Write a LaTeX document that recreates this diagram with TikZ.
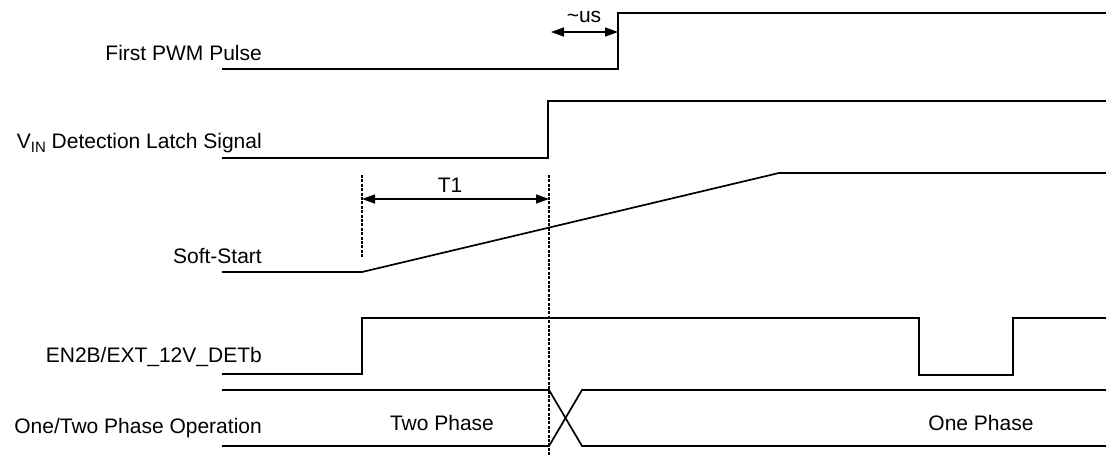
\documentclass[tikz,border=0pt]{standalone}
\usepackage{fontspec}
\setmainfont{Liberation Sans}
\usetikzlibrary{arrows.meta}
\begin{document}
\begin{tikzpicture}[x=1pt,y=-1pt,
  wave/.style={line width=1.7pt, line join=miter},
  lbl/.style={inner sep=0pt, anchor=base east, font=\fontsize{21}{25}\selectfont},
  txt/.style={inner sep=0pt, anchor=base, font=\fontsize{21}{25}\selectfont},
  marker/.style={line width=2.6pt, dash pattern=on 3pt off 1.4pt},
  dim/.style={line width=1.6pt, {Triangle[length=13pt,width=9pt]}-{Triangle[length=13pt,width=9pt]}}]
\useasboundingbox (0,0) rectangle (1106,455);
% labels
\node[lbl] (l1) at (262,60) {First PWM Pulse};
\node[lbl] (l2) at (262,148) {V\raisebox{-4pt}{\fontsize{15}{15}\selectfont IN} Detection Latch Signal};
\node[lbl] (l3) at (262,263) {Soft-Start};
\node[lbl] (l4) at (262,362) {EN2B/EXT\_12V\_DETb};
\node[lbl] (l5) at (262,433) {One/Two Phase Operation};
% First PWM pulse
\draw[wave] (222,69) -- (618,69) -- (618,13) -- (1106,13);
% VIN detection latch
\draw[wave] (222,158) -- (548,158) -- (548,101) -- (1106,101);
% Soft-start
\draw[wave] (222,272) -- (362,272) -- (779,173) -- (1106,173);
% EN2B
\draw[wave] (222,374) -- (362,374) -- (362,318) -- (919,318) -- (919,375) -- (1013,375) -- (1013,318) -- (1106,318);
% Phase operation
\draw[wave] (222,390) -- (549,390) -- (582,446) -- (1106,446);
\draw[wave] (222,446) -- (549,446) -- (582,390) -- (1106,390);
\node[txt] (tp) at (442,430) {Two Phase};
\node[txt] (op) at (981,430) {One Phase};
% markers
\coordinate (m1t) at (362,175);
\coordinate (m1b) at (362,258);
\coordinate (m2t) at (549,175);
\coordinate (m2b) at (549,455);
\draw[marker] (m1t) -- (m1b);
\draw[marker] (m2t) -- (m2b);
\coordinate (a1) at (362,199);
\coordinate (a2) at (549,199);
\draw[dim] (a1) -- (a2);
\node[txt] (t1) at (450,192) {T1};
% ~us
\coordinate (u1) at (551,32);
\coordinate (u2) at (618,32);
\draw[dim] (u1) -- (u2);
\node[txt] (us) at (584,22) {\textasciitilde us};
\end{tikzpicture}
\end{document}
